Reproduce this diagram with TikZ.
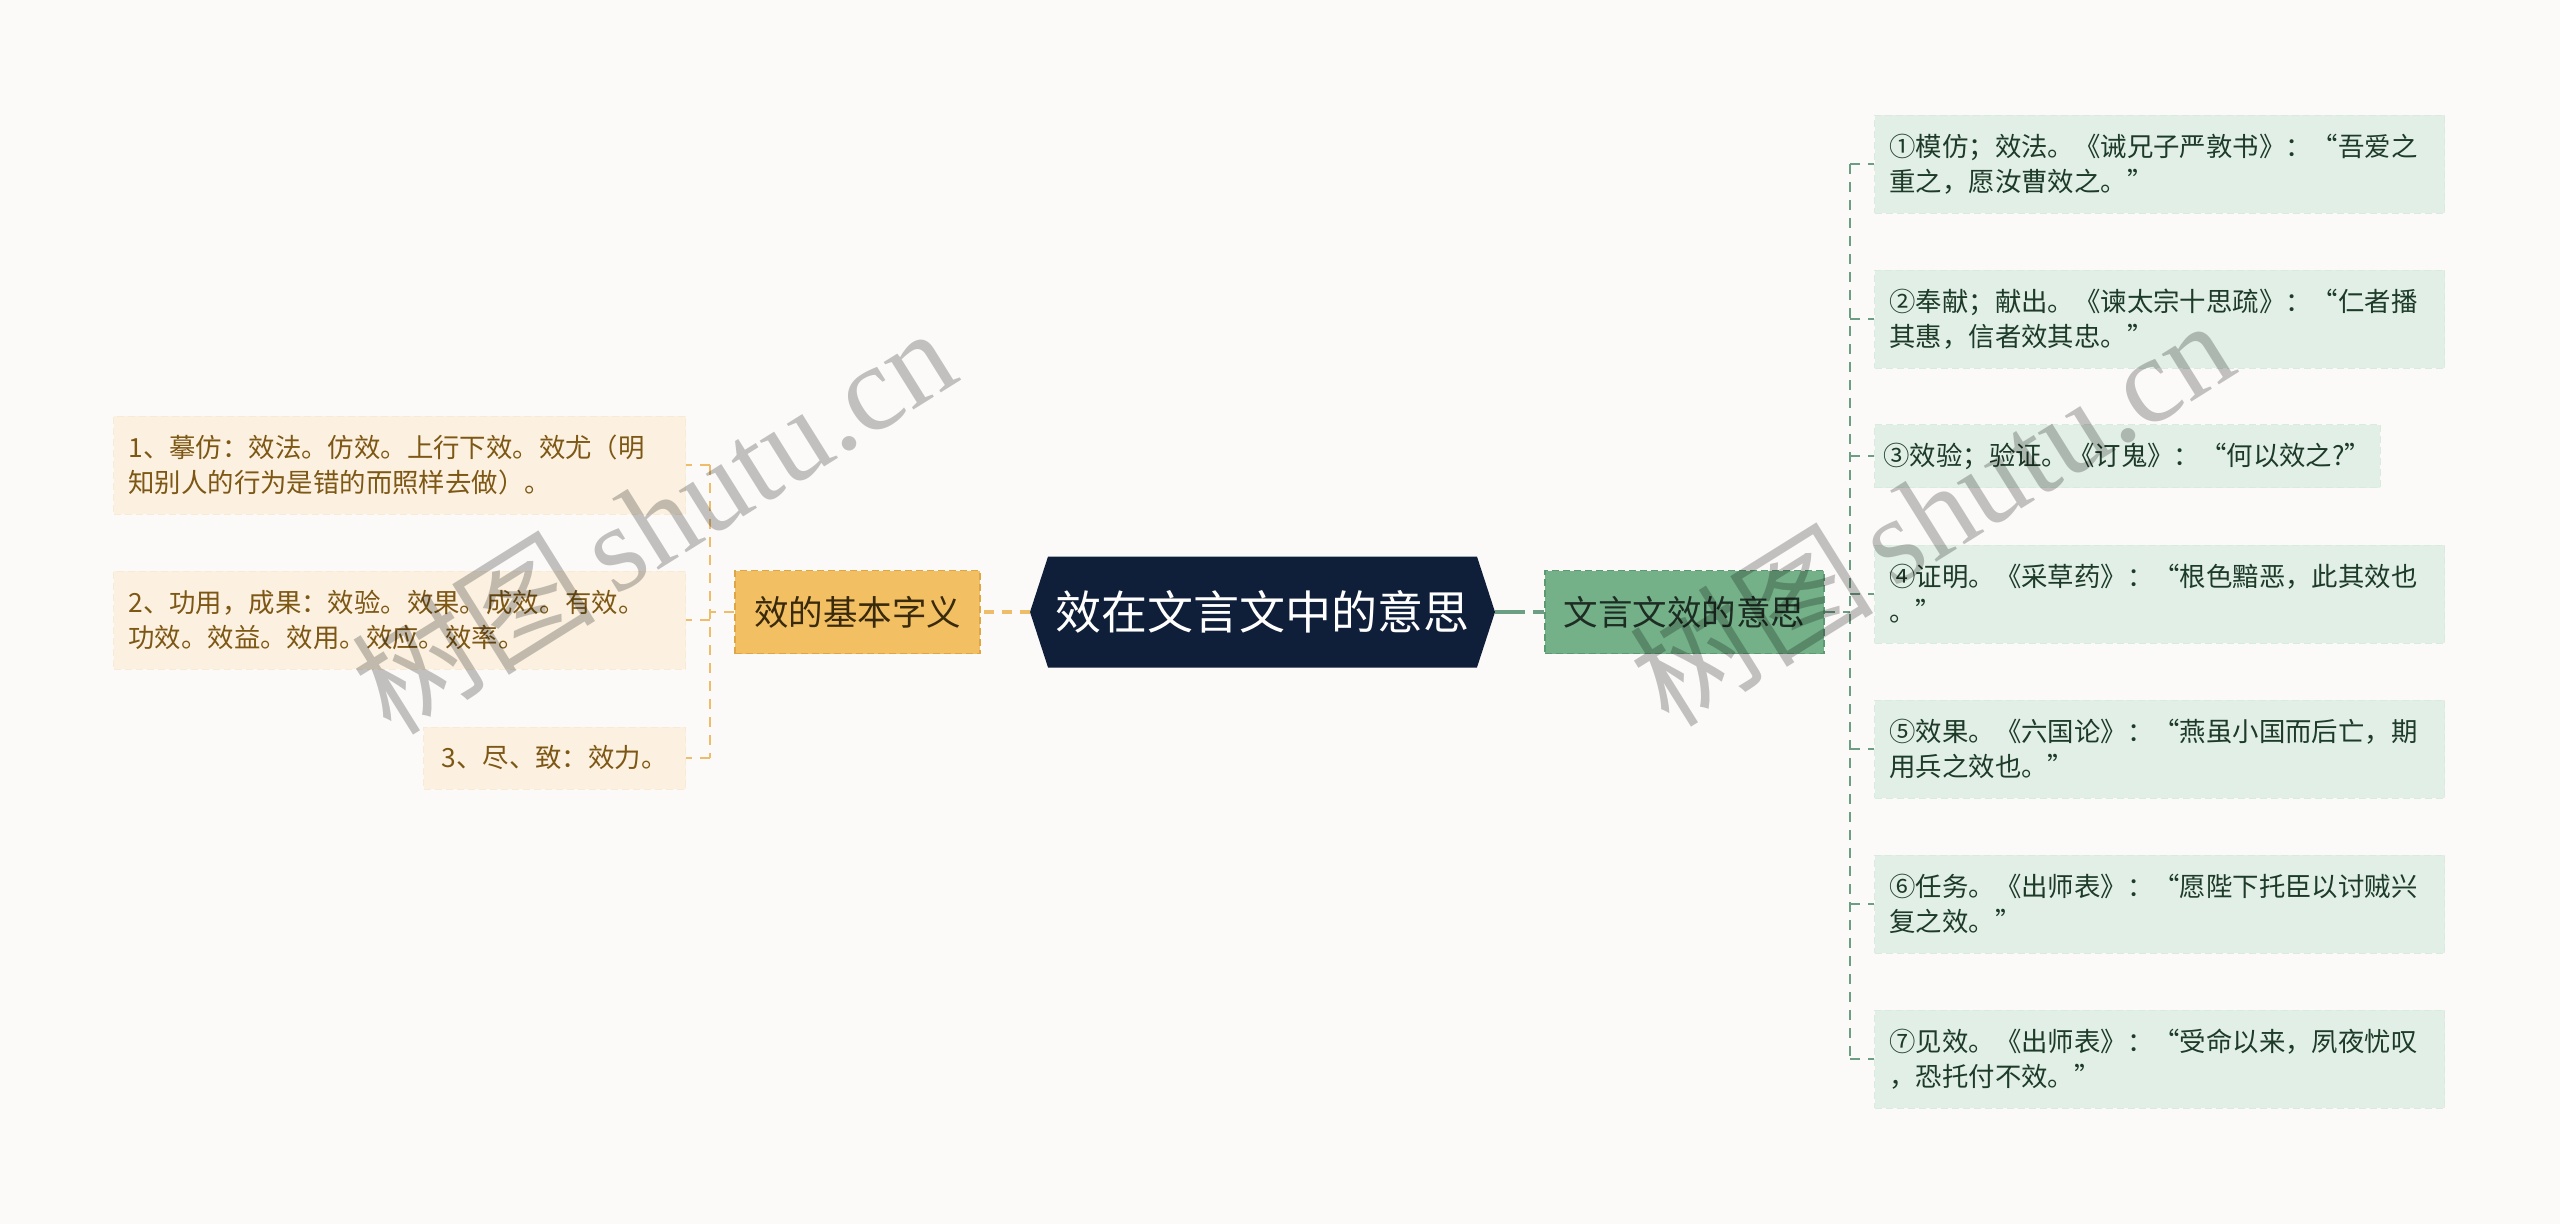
\documentclass[tikz,border=0pt]{standalone}
\usepackage{fontspec}
\setmainfont{Liberation Sans}
\newfontfamily\cjk{Noto Sans CJK SC}
\newfontfamily\wmfont{Liberation Serif}
\usetikzlibrary{shapes.symbols}
\definecolor{bgc}{HTML}{FCFAF8}
\definecolor{hubc}{HTML}{0F1F39}
\definecolor{lbrfill}{HTML}{F2BF63}
\definecolor{lbrline}{HTML}{DFA646}
\definecolor{lbrtext}{HTML}{3A2A0C}
\definecolor{lleaffill}{HTML}{FCF1E1}
\definecolor{lleafline}{HTML}{F8EBD6}
\definecolor{lleaftext}{HTML}{7D5714}
\definecolor{lline}{HTML}{EDBD6A}
\definecolor{rbrfill}{HTML}{74B189}
\definecolor{rbrline}{HTML}{5C9A73}
\definecolor{rbrtext}{HTML}{1E2D23}
\definecolor{rleaffill}{HTML}{E1EFE6}
\definecolor{rleafline}{HTML}{D9EADF}
\definecolor{rleaftext}{HTML}{1D3B28}
\definecolor{rline}{HTML}{6C9E84}
\tikzset{
  hub/.style={signal, signal to=west and east, signal pointer angle=144,
    fill=hubc, text=white, minimum width=465pt, minimum height=111pt, inner sep=0pt,
    font=\cjk\fontsize{46pt}{52pt}\selectfont},
  lbr/.style={rectangle, fill=lbrfill, draw=lbrline, dash pattern=on 7pt off 4pt,
    line width=1.5pt, minimum width=245pt, minimum height=83pt, inner sep=0pt,
    text=lbrtext, font=\cjk\fontsize{34.5pt}{40pt}\selectfont},
  rbr/.style={rectangle, fill=rbrfill, draw=rbrline, dash pattern=on 7pt off 4pt,
    line width=1.5pt, minimum width=279pt, minimum height=83pt, inner sep=0pt,
    text=rbrtext, font=\cjk\fontsize{34.5pt}{40pt}\selectfont},
  leafbase/.style={rectangle, line width=1pt, dash pattern=on 7pt off 4pt,
    inner xsep=15pt, inner ysep=0pt, font=\cjk\fontsize{26.4pt}{35pt}\selectfont},
  lleaf/.style={leafbase, fill=lleaffill, draw=lleafline, text=lleaftext, anchor=east},
  rleaf/.style={leafbase, fill=rleaffill, draw=rleafline, text=rleaftext, anchor=west},
  twol/.style={text width=542pt, align=left, minimum height=98pt},
  twor/.style={text width=540pt, align=left, minimum height=98pt},
  lconn/.style={draw=lline, line width=2.5pt, dash pattern=on 10pt off 8pt},
  rconn/.style={draw=rline, line width=2.5pt, dash pattern=on 10pt off 8pt},
  wm/.style={text=black, text opacity=0.23, inner sep=0pt, rotate=32,
    font=\wmfont\fontsize{122pt}{130pt}\selectfont}
}
\begin{document}
\begin{tikzpicture}[x=1pt,y=-1pt]
\useasboundingbox (0,0) rectangle (2560,1224);
\fill[bgc] (0,0) rectangle (2560,1224);

% central and branch nodes
\node[hub] (hub) at (1262.5,612) {效在文言文中的意思};
\node[lbr] (lbr) at (857.5,612) {效的基本字义};
\node[rbr] (rbr) at (1684.5,612) {文言文效的意思};

% left leaves
\node[lleaf,twol] (l1) at (686,465) {1、摹仿：效法。仿效。上行下效。效尤（明\\知别人的行为是错的而照样去做）。};
\node[lleaf,twol] (l2) at (686,620) {2、功用，成果：效验。效果。成效。有效。\\功效。效益。效用。效应。效率。};
\node[lleaf,minimum width=262pt,minimum height=62pt] (l3) at (686,758) {3、尽、致：效力。};

% right leaves
\node[rleaf,twor] (r1) at (1874,164) {①模仿；效法。《诫兄子严敦书》：“吾爱之\\重之，愿汝曹效之。”};
\node[rleaf,twor] (r2) at (1874,319) {②奉献；献出。《谏太宗十思疏》：“仁者播\\其惠，信者效其忠。”};
\node[rleaf,inner xsep=9pt,minimum width=505pt,minimum height=63pt] (r3) at (1874,456) {③效验；验证。《订鬼》：“何以效之?”};
\node[rleaf,twor] (r4) at (1874,594) {④证明。《采草药》：“根色黯恶，此其效也\\。”};
\node[rleaf,twor] (r5) at (1874,749) {⑤效果。《六国论》：“燕虽小国而后亡，期\\用兵之效也。”};
\node[rleaf,twor] (r6) at (1874,904) {⑥任务。《出师表》：“愿陛下托臣以讨贼兴\\复之效。”};
\node[rleaf,twor] (r7) at (1874,1059) {⑦见效。《出师表》：“受命以来，夙夜忧叹\\，恐托付不效。”};

% connectors
\coordinate (lbus) at (710,612);
\coordinate (rbus) at (1850,612);
\draw[lconn, line width=3.5pt] (hub.west) -- (lbr.east);
\draw[rconn, line width=3.5pt, dash pattern=on 30pt off 8pt] (hub.east) -- (rbr.west);
\draw[lconn] (lbr.west) -- (lbus);
\draw[rconn] (rbr.east) -- (rbus);
\draw[lconn] (lbus |- l1.east) -- (lbus |- l3.east);
\draw[rconn] (rbus |- r1.west) -- (rbus |- r7.west);
\foreach \n in {l1,l2,l3} { \draw[lconn] (lbus |- \n.east) -- (\n.east); }
\foreach \n in {r1,r2,r3,r4,r5,r6,r7} { \draw[rconn] (rbus |- \n.west) -- (\n.west); }

% watermark
\node[wm] (wm1) at (653,519) {{\cjk 树图}\,shutu.cn};
\node[wm] (wm2) at (1931,511) {{\cjk 树图}\,shutu.cn};
\end{tikzpicture}
\end{document}
